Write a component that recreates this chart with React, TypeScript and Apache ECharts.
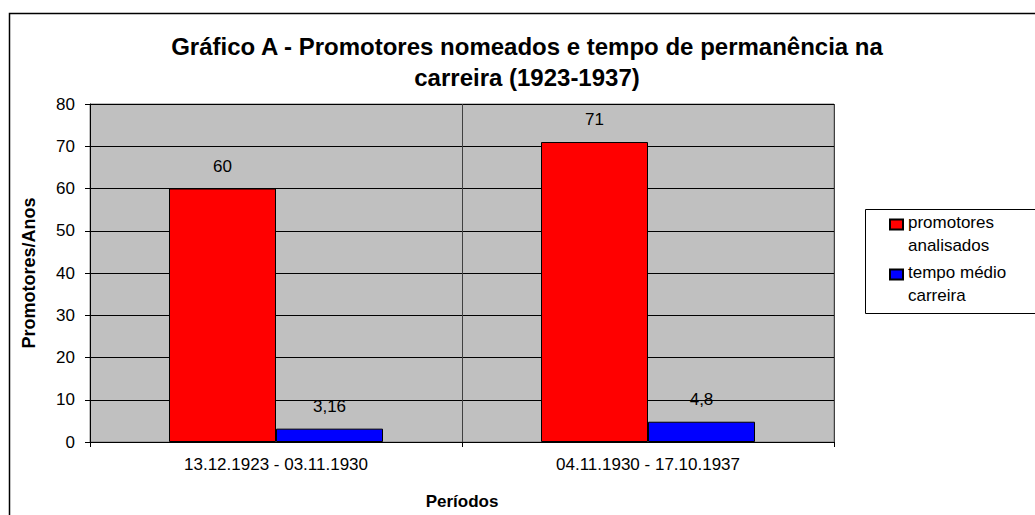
import React, { useEffect, useRef } from "react";
import * as echarts from "echarts";

const categories = ["13.12.1923 - 03.11.1930", "04.11.1930 - 17.10.1937"];
const promotoresAnalisados = [60, 71];
const tempoMedioCarreira = [3.16, 4.8];
const seriesNames = ["promotores analisados", "tempo médio carreira"];
const legendLines: Record<string, string[]> = {
  "promotores analisados": ["promotores", "analisados"],
  "tempo médio carreira": ["tempo médio", "carreira"],
};
const yTicks = { min: 0, max: 80, interval: 10 };

const FONT = "'Liberation Sans', Arial, sans-serif";

export default function App() {
  const ref = useRef<HTMLDivElement>(null);
  useEffect(() => {
    if (!ref.current) return;
    const chart = echarts.init(ref.current, null, { renderer: "svg" });
    const labelFmt = (p: any) => String(p.value).replace(".", ",");
    chart.setOption({
      animation: false,
      backgroundColor: "#ffffff",
      textStyle: { fontFamily: FONT },
      title: {
        text: "Gráfico A - Promotores nomeados e tempo de permanência na\ncarreira (1923-1937)",
        left: 527,
        top: 31,
        textAlign: "center",
        padding: 0,
        textStyle: {
          fontFamily: FONT,
          fontSize: 24,
          fontWeight: "bold",
          color: "#000",
          lineHeight: 31,
        },
      },
      graphic: [
        {
          type: "rect",
          shape: { x: 9.5, y: 13.5, width: 1100, height: 600 },
          style: { fill: "none", stroke: "#000", lineWidth: 1.5 },
          silent: true,
          z: -10,
        },
        {
          type: "rect",
          shape: { x: 865.5, y: 209.5, width: 300, height: 104 },
          style: { fill: "none", stroke: "#000", lineWidth: 1 },
          silent: true,
        },
      ],
      legend: {
        orient: "vertical",
        left: 889,
        top: 201,
        padding: 0,
        itemGap: -3,
        itemWidth: 13,
        itemHeight: 10,
        icon: "rect",
        formatter: (name: string) => {
          const ls = legendLines[name] || [name];
          return "{s| }\n" + ls.map((l) => "{a|" + l + "}").join("\n");
        },
        textStyle: {
          fontFamily: FONT,
          fontSize: 17,
          color: "#000",
          rich: {
            s: { fontSize: 1, lineHeight: 19 },
            a: { fontFamily: FONT, fontSize: 17, color: "#000", lineHeight: 23 },
          },
        },
        data: seriesNames,
      },
      grid: {
        left: 90,
        right: 201,
        top: 104,
        bottom: 64,
        show: true,
        backgroundColor: "#C0C0C0",
        borderColor: "#808080",
        borderWidth: 1,
      },
      xAxis: {
        type: "category",
        data: categories,
        name: "Períodos",
        nameLocation: "middle",
        nameGap: 51,
        nameTextStyle: { fontFamily: FONT, fontSize: 17, fontWeight: "bold", color: "#000" },
        axisLine: { show: true, lineStyle: { color: "#000", width: 1 } },
        axisTick: { show: true, length: 5, lineStyle: { color: "#000" }, alignWithLabel: false },
        axisLabel: { fontFamily: FONT, fontSize: 17, color: "#000", margin: 14 },
        splitLine: { show: true, interval: 0, lineStyle: { color: "#404040", width: 1 } },
      },
      yAxis: {
        type: "value",
        min: yTicks.min,
        max: yTicks.max,
        interval: yTicks.interval,
        name: "Promotores/Anos",
        nameLocation: "middle",
        nameGap: 52,
        nameRotate: 90,
        nameTextStyle: { fontFamily: FONT, fontSize: 18, fontWeight: "bold", color: "#000" },
        axisLine: { show: true, lineStyle: { color: "#000", width: 1 } },
        axisTick: { show: true, length: 5, inside: false, lineStyle: { color: "#000" } },
        axisLabel: { fontFamily: FONT, fontSize: 17, color: "#000", margin: 15 },
        splitLine: { show: true, lineStyle: { color: "#000", width: 1 } },
      },
      series: [
        {
          name: seriesNames[0],
          type: "bar",
          data: promotoresAnalisados,
          barWidth: 107,
          barGap: "0%",
          itemStyle: { color: "#FF0000", borderColor: "#000", borderWidth: 1 },
          label: {
            show: true,
            position: "top",
            distance: 14,
            formatter: labelFmt,
            fontFamily: FONT,
            fontSize: 17,
            color: "#000",
          },
        },
        {
          name: seriesNames[1],
          type: "bar",
          data: tempoMedioCarreira,
          barWidth: 107,
          barGap: "0%",
          itemStyle: { color: "#0000FF", borderColor: "#000", borderWidth: 1 },
          label: {
            show: true,
            position: "top",
            distance: 14,
            formatter: labelFmt,
            fontFamily: FONT,
            fontSize: 17,
            color: "#000",
          },
        },
      ],
    });
    return () => chart.dispose();
  }, []);
  return (
    <div
      ref={ref}
      style={{ position: "fixed", left: 0, top: 0, width: 1035, height: 515 }}
    />
  );
}
